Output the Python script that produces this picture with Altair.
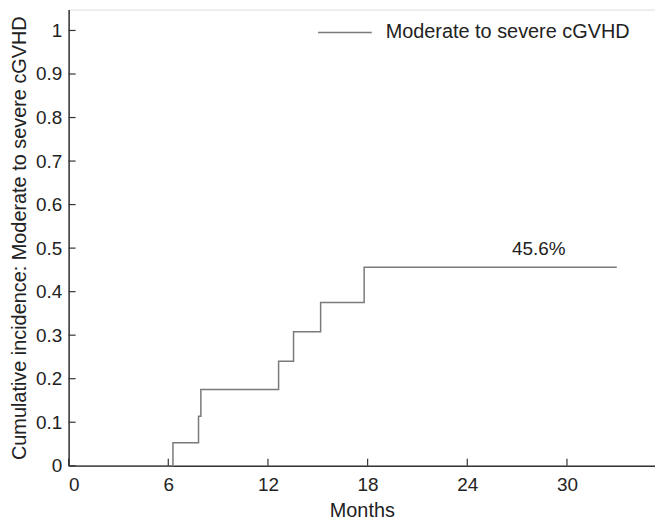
import altair as alt
import pandas as pd

# Step data (months, cumulative incidence)
months = [0, 6.28, 7.82, 7.96, 12.64, 13.54, 15.17, 17.79, 33.0]
incidence = [0, 0.053, 0.114, 0.175, 0.240, 0.308, 0.375, 0.456, 0.456]
series_name = "Moderate to severe cGVHD"

x_ticks = [0, 6, 12, 18, 24, 30]
y_ticks = [0, 0.1, 0.2, 0.3, 0.4, 0.5, 0.6, 0.7, 0.8, 0.9, 1.0]

annot_x = [28.3]
annot_y = [0.497]
annot_text = ["45.6%"]

W, H = 590, 459
FONT = "Liberation Sans"

df = pd.DataFrame({"month": months, "inc": incidence, "series": series_name})
xt = pd.DataFrame({"t": x_ticks})
yt = pd.DataFrame({"t": y_ticks})
ann = pd.DataFrame({"x": annot_x, "y": annot_y, "label": annot_text})

xscale = alt.Scale(domain=[0, 35.3], nice=False, zero=False)
yscale = alt.Scale(domain=[0, 1.048], nice=False)

line = alt.Chart(df).mark_line(interpolate="step-after", strokeWidth=1.5).encode(
    x=alt.X("month:Q", scale=xscale,
            axis=alt.Axis(values=x_ticks, title="Months", tickSize=0, labelPadding=10,
                          titlePadding=6, grid=False, domainColor="#333", domainWidth=1.5,
                          labelFontSize=19, titleFontSize=20, labelColor="#222",
                          titleColor="#222", labelFont=FONT, titleFont=FONT,
                          titleFontWeight="normal")),
    y=alt.Y("inc:Q", scale=yscale,
            axis=alt.Axis(values=y_ticks, title="Cumulative incidence: Moderate to severe cGVHD",
                          format=".1~f", tickSize=0, labelPadding=7, titlePadding=6,
                          grid=False, domainColor="#333", domainWidth=1.5,
                          labelFontSize=19, titleFontSize=20, labelColor="#222",
                          titleColor="#222", labelFont=FONT, titleFont=FONT,
                          titleFontWeight="normal")),
    color=alt.Color("series:N", scale=alt.Scale(range=["#7a7a7a"]),
                    legend=alt.Legend(title=None, orient="none", legendX=250, legendY=-5,
                                      symbolType="stroke", symbolSize=2916,
                                      symbolStrokeWidth=1.5, labelFontSize=20,
                                      labelFont=FONT, labelColor="#222", labelOffset=13,
                                      labelLimit=400)),
)

xtick_marks = alt.Chart(xt).mark_rule(color="#333", strokeWidth=1.2).encode(
    x=alt.X("t:Q", scale=xscale), y=alt.value(H), y2=alt.value(H - 7))
ytick_marks = alt.Chart(yt).mark_rule(color="#333", strokeWidth=1.2).encode(
    y=alt.Y("t:Q", scale=yscale), x=alt.value(0), x2=alt.value(7))

text = alt.Chart(ann).mark_text(fontSize=19, font=FONT, color="#222").encode(
    x=alt.X("x:Q", scale=xscale), y=alt.Y("y:Q", scale=yscale), text="label:N")

chart = alt.layer(line, xtick_marks, ytick_marks, text).properties(
    width=W, height=H,
    autosize=alt.AutoSizeParams(type="none"),
    padding={"left": 61, "top": 0, "right": 0, "bottom": 56},
).configure_view(stroke=None).configure(background="white")

chart.save("out.html", embed_options={"renderer": "svg", "actions": False})
